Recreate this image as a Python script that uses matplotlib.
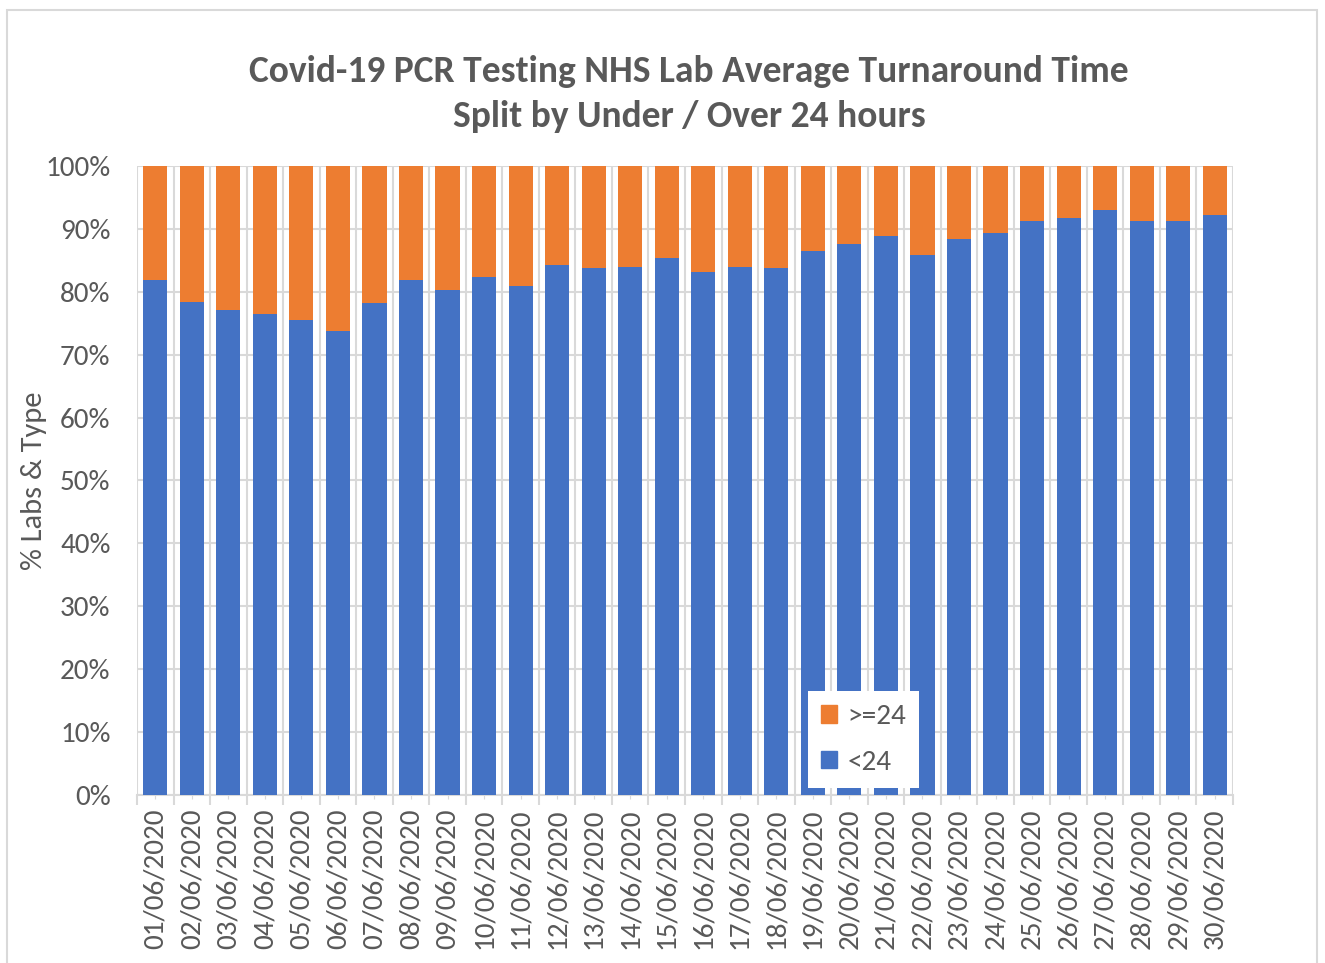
import matplotlib.pyplot as plt
from matplotlib.patches import Rectangle, Patch
import numpy as np

dates = ['%02d/06/2020' % d for d in range(1, 31)]
under_24 = [81.9, 78.4, 77.1, 76.5, 75.5, 73.8, 78.2, 81.8, 80.3, 82.4,
            81.0, 84.2, 83.8, 84.0, 85.3, 83.1, 84.0, 83.8, 86.5, 87.6,
            88.8, 85.9, 88.4, 89.4, 91.2, 91.8, 93.0, 91.3, 91.3, 92.2]
over_24 = [100 - v for v in under_24]

blue = '#4472C4'
orange = '#ED7D31'
grid = '#D9D9D9'
txt = '#595959'

plt.rcParams['font.family'] = ['Carlito', 'Lato', 'DejaVu Sans']

W, H = 1325, 963
fig = plt.figure(figsize=(W / 100, H / 100), dpi=100)
ax = fig.add_axes([137 / W, 1 - 795 / H, (1233 - 137) / W, (795 - 166) / H])

x = np.arange(len(dates))
ax.bar(x, under_24, width=0.66, color=blue, label='<24', zorder=3)
ax.bar(x, over_24, width=0.66, bottom=under_24, color=orange, label='>=24', zorder=3)

ax.set_xlim(-0.5, len(dates) - 0.5)
ax.set_ylim(0, 100)
ax.set_yticks(range(0, 101, 10))
ax.set_yticklabels(['%d%%' % v for v in range(0, 101, 10)])
ax.set_xticks(x)
ax.set_xticklabels(dates, rotation=90)
ax.set_xticks(np.arange(-0.5, len(dates)), minor=True)

ax.grid(axis='y', color=grid, linewidth=1.5, zorder=0)
ax.grid(axis='x', which='minor', color=grid, linewidth=1.5, zorder=0)
ax.grid(axis='x', which='major', visible=False)
for s in ['top', 'right', 'left']:
    ax.spines[s].set_visible(False)
ax.spines['bottom'].set_color(grid)
ax.spines['bottom'].set_linewidth(1.5)

ax.tick_params(axis='y', length=0, pad=19, labelsize=21, labelcolor=txt)
ax.tick_params(axis='x', which='major', length=3, color=grid, pad=7,
               labelsize=21, labelcolor=txt)
ax.tick_params(axis='x', which='minor', length=7, color=grid, width=1.5)

ax.set_ylabel('% Labs & Type', fontsize=22, color=txt)
ax.yaxis.set_label_coords(-90 / (1233 - 137), 0.5)

fig.text(689 / W, 1 - 94 / H,
         'Covid-19 PCR Testing NHS Lab Average Turnaround Time\nSplit by Under / Over 24 hours',
         ha='center', va='center', fontsize=27, fontweight='bold', color=txt,
         linespacing=1.48)

handles = [Patch(color=orange, label='>=24'), Patch(color=blue, label='<24')]
leg = ax.legend(handles=handles, loc='lower left',
                bbox_to_anchor=((808 - 137) / (1233 - 137), (795 - 788) / (795 - 166)),
                borderaxespad=0, fontsize=21, frameon=True, fancybox=False,
                handlelength=0.55, handleheight=0.55, labelspacing=0.7,
                borderpad=0.45, handletextpad=0.35, labelcolor=txt)
leg.get_frame().set_edgecolor('none')
leg.get_frame().set_facecolor('white')
leg.get_frame().set_alpha(1)
leg.set_zorder(5)

fig.patches.append(Rectangle((7 / W, -0.01), 1310 / W, 1 - 10 / H + 0.01,
                             transform=fig.transFigure, fill=False,
                             edgecolor=grid, linewidth=1.5))

fig.savefig('out.png', dpi=100, facecolor='white')
